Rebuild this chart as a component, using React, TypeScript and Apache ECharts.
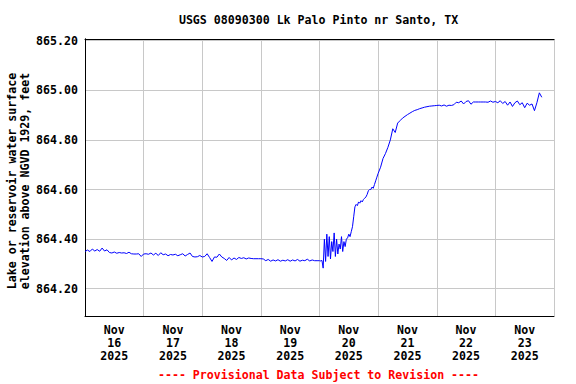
import React, { useEffect, useRef } from "react";
import * as echarts from "echarts";

const titleText = "USGS 08090300 Lk Palo Pinto nr Santo, TX";
const footerText = "---- Provisional Data Subject to Revision ----";
const yAxisTitle = "Lake or reservoir water surface\nelevation above NGVD 1929, feet";

const dayLabels = [
  "Nov\n16\n2025", "Nov\n17\n2025", "Nov\n18\n2025", "Nov\n19\n2025",
  "Nov\n20\n2025", "Nov\n21\n2025", "Nov\n22\n2025", "Nov\n23\n2025",
];
const yTicks = [864.2, 864.4, 864.6, 864.8, 865.0, 865.2];

// hourly readings (hours since Nov 16 00:00)
const levelsNov16 = [
  864.350, 864.356, 864.350, 864.360, 864.352, 864.358, 864.351, 864.364,
  864.352, 864.357, 864.346, 864.344, 864.348, 864.343, 864.346, 864.344,
  864.345, 864.342, 864.347, 864.341, 864.340, 864.340, 864.341, 864.330,
];
const levelsNov17 = [
  864.340, 864.341, 864.339, 864.344, 864.336, 864.343, 864.334, 864.345,
  864.337, 864.340, 864.333, 864.338, 864.336, 864.339, 864.333, 864.337,
  864.341, 864.332, 864.338, 864.344, 864.330, 864.328, 864.329, 864.334,
];
const levelsNov18 = [
  864.328, 864.330, 864.341, 864.326, 864.310, 864.328, 864.327, 864.340,
  864.328, 864.322, 864.314, 864.326, 864.316, 864.324, 864.318, 864.326,
  864.322, 864.325, 864.320, 864.324, 864.322, 864.321, 864.321, 864.321,
];
const levelsNov19 = [
  864.321, 864.320, 864.313, 864.318, 864.311, 864.316, 864.312, 864.317,
  864.311, 864.315, 864.312, 864.317, 864.311, 864.316, 864.312, 864.318,
  864.311, 864.315, 864.313, 864.319, 864.312, 864.316, 864.313, 864.313,
];
// half-hourly readings on Nov 20
const levelsNov20 = [
  864.313, 864.312, 864.314, 864.283, 864.400, 864.310, 864.420, 864.330,
  864.410, 864.320, 864.390, 864.350, 864.425, 864.330, 864.400, 864.340,
  864.380, 864.360, 864.410, 864.350, 864.390, 864.370, 864.400, 864.405,
  864.420, 864.410, 864.430, 864.450, 864.490, 864.530, 864.540, 864.535,
  864.550, 864.545, 864.555, 864.550, 864.560, 864.565, 864.570, 864.580,
  864.595, 864.600, 864.600, 864.610, 864.605, 864.620, 864.635, 864.650,
];
const levelsNov21 = [
  864.665, 864.690, 864.725, 864.745, 864.770, 864.800, 864.845, 864.830,
  864.868, 864.878, 864.888, 864.895, 864.902, 864.908, 864.914, 864.919,
  864.922, 864.926, 864.929, 864.932, 864.934, 864.936, 864.937, 864.938,
];
const levelsNov22 = [
  864.939, 864.940, 864.937, 864.941, 864.936, 864.940, 864.939, 864.942,
  864.952, 864.950, 864.957, 864.945, 864.955, 864.958, 864.944, 864.953,
  864.953, 864.953, 864.953, 864.953, 864.953, 864.952, 864.957, 864.952,
];
const levelsNov23 = [
  864.955, 864.950, 864.958, 864.947, 864.955, 864.940, 864.953, 864.935,
  864.950, 864.957, 864.942, 864.950, 864.930, 864.948, 864.940, 864.945,
  864.918, 864.950, 864.990, 864.972,
];

const FONT = "DejaVu Sans Mono";
const FS = 11.6;

function hourly(start: number, vals: number[]) {
  return vals.map((v, i) => [start + i, v]);
}
function halfHourly(start: number, vals: number[]) {
  return vals.map((v, i) => [start + i * 0.5, v]);
}

const seriesData = [
  ...hourly(0, levelsNov16),
  ...hourly(24, levelsNov17),
  ...hourly(48, levelsNov18),
  ...hourly(72, levelsNov19),
  ...halfHourly(96, levelsNov20),
  ...hourly(120, levelsNov21),
  ...hourly(144, levelsNov22),
  ...hourly(168, levelsNov23),
];

export default function App() {
  const ref = useRef<HTMLDivElement>(null);
  useEffect(() => {
    if (!ref.current) return;
    const chart = echarts.init(ref.current, null, { renderer: "svg" });
    const textBase = { fontFamily: FONT, fontWeight: "bold", fontSize: FS, color: "#000" };
    chart.setOption({
      animation: false,
      backgroundColor: "#fff",
      title: {
        text: titleText,
        left: 318.5,
        textAlign: "center",
        top: 14,
        padding: 0,
        textStyle: { ...textBase },
      },
      grid: { left: 85, right: 22, top: 39, bottom: 68, containLabel: false },
      xAxis: [
        {
          type: "value", position: "bottom", min: 0, max: 192, interval: 24,
          axisLine: { show: true, lineStyle: { color: "#000", width: 1 } },
          axisTick: { show: false },
          axisLabel: { show: false },
          splitLine: { show: true, lineStyle: { color: "#c8c8c8", width: 1 } },
        },
        {
          type: "category", position: "bottom", data: dayLabels, boundaryGap: true,
          axisLine: { show: false }, axisTick: { show: false },
          splitLine: { show: false },
          axisLabel: { ...textBase, margin: 7.5, lineHeight: 12.8, interval: 0 },
        },
        {
          type: "value", position: "top", min: 0, max: 192, interval: 24,
          axisLine: { show: true, lineStyle: { color: "#000", width: 1 } },
          axisTick: { show: false }, axisLabel: { show: false }, splitLine: { show: false },
        },
      ],
      yAxis: [
        {
          type: "value", position: "left", min: 864.09, max: 865.207,
          axisLine: { show: true, lineStyle: { color: "#000", width: 1 } },
          axisTick: { show: false, customValues: yTicks },
          axisLabel: {
            ...textBase, margin: 7, customValues: yTicks,
            formatter: (v: number) => v.toFixed(2),
          },
          splitLine: { show: true, lineStyle: { color: "#c8c8c8", width: 1 } },
        },
        {
          type: "value", position: "right", min: 864.09, max: 865.207,
          axisLine: { show: true, lineStyle: { color: "#000", width: 1 } },
          axisTick: { show: false }, axisLabel: { show: false }, splitLine: { show: false },
        },
      ],
      graphic: [
        {
          type: "text", x: 18.3, y: 181, rotation: Math.PI / 2,
          style: {
            text: yAxisTitle, fill: "#000", font: `bold ${FS}px "${FONT}"`,
            textAlign: "center", textVerticalAlign: "middle", lineHeight: 13.3,
          },
        },
        {
          type: "text", x: 318.5, y: 374.5,
          style: {
            text: footerText, fill: "#ff0000", font: `bold ${FS}px "${FONT}"`,
            textAlign: "center", textVerticalAlign: "middle",
          },
        },
      ],
      series: [
        {
          type: "line", xAxisIndex: 0, yAxisIndex: 0, data: seriesData,
          showSymbol: false, symbol: "none",
          lineStyle: { color: "#0000ff", width: 1 },
        },
      ],
    });
    return () => chart.dispose();
  }, []);
  return <div ref={ref} style={{ width: 576, height: 384, position: "absolute", left: 0, top: 0 }} />;
}
